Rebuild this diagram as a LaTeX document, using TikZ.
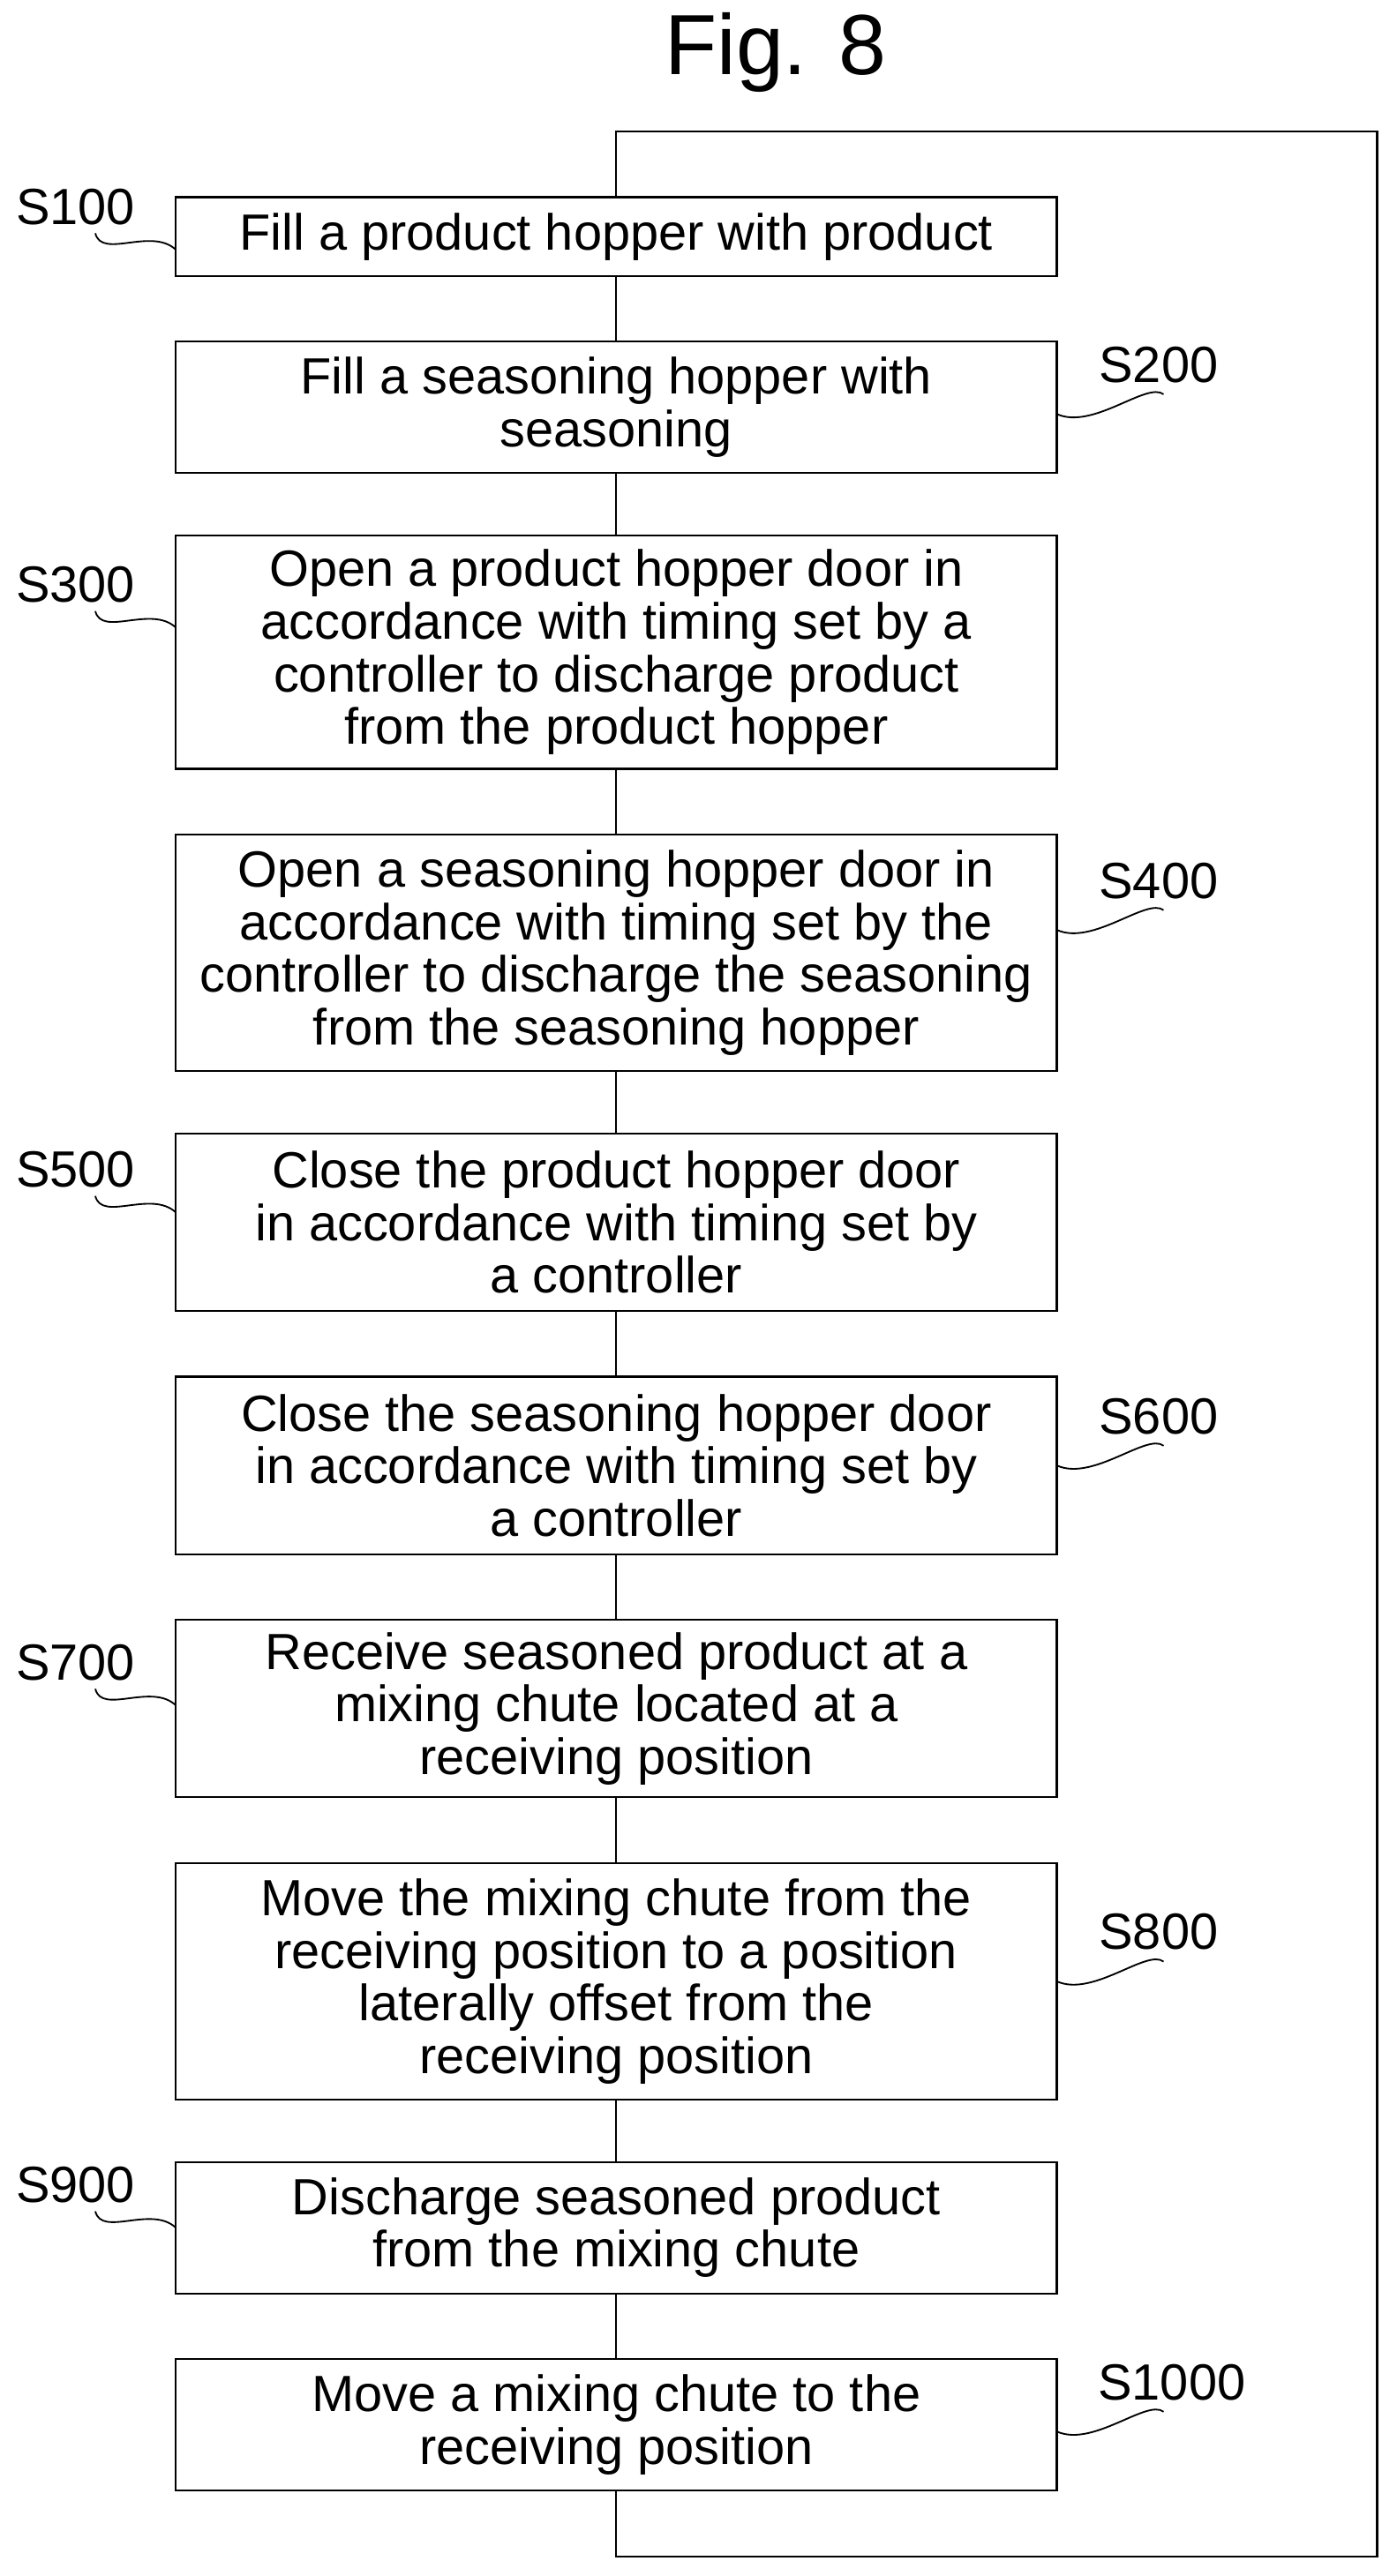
\documentclass[tikz,border=0pt]{standalone}
\usepackage{fontspec}
\setmainfont{Liberation Sans}
\begin{document}
\begin{tikzpicture}[x=1pt,y=-1pt,
 box/.style={draw,line width=1.2pt,minimum width=536pt,align=center,inner sep=0pt,font=\fontsize{31}{32}\selectfont},
 lbl/.style={font=\fontsize{31}{32}\selectfont,inner sep=0pt},
 ln/.style={line width=1.2pt}]
\useasboundingbox (0,0) rectangle (850,1568);
\node[font=\fontsize{52}{56}\selectfont] (title) at (472,32) {Fig. 8};
\def\B#1#2#3#4{\node[box,minimum height=#3-#2] (#1) at (375,{(#2+#3)/2}) {#4};}
\B{s1}{120}{168}{Fill a product hopper with product}
\B{s2}{208}{288}{Fill a seasoning hopper with\\seasoning}
\B{s3}{326}{468}{Open a product hopper door in\\accordance with timing set by a\\controller to discharge product\\from the product hopper}
\B{s4}{508}{652}{Open a seasoning hopper door in\\accordance with timing set by the\\controller to discharge the seasoning\\from the seasoning hopper}
\B{s5}{690}{798}{Close the product hopper door\\in accordance with timing set by\\a controller}
\B{s6}{838}{946}{Close the seasoning hopper door\\in accordance with timing set by\\a controller}
\B{s7}{986}{1094}{Receive seasoned product at a\\mixing chute located at a\\receiving position}
\B{s8}{1134}{1278}{Move the mixing chute from the\\receiving position to a position\\laterally offset from the\\receiving position}
\B{s9}{1316}{1396}{Discharge seasoned product\\from the mixing chute}
\B{s10}{1436}{1516}{Move a mixing chute to the\\receiving position}
\foreach \a/\b in {s1/s2,s2/s3,s3/s4,s4/s5,s5/s6,s6/s7,s7/s8,s8/s9,s9/s10}
  \draw[ln] (\a.south) -- (\b.north);
\coordinate (c1) at (375,1556);
\coordinate (c2) at (838,1556);
\coordinate (c3) at (838,80);
\coordinate (c4) at (375,80);
\draw[ln] (s10.south) -- (c1) -- (c2) -- (c3) -- (c4) -- (s1.north);
% left labels
\foreach \n/\t/\y in {s1/S100/126,s3/S300/356,s5/S500/712,s7/S700/1012,s9/S900/1330}{
  \node[lbl] (L\t) at (46,\y) {\t};
  \coordinate (a\t) at (58,\y+16);
  \coordinate (b\t) at (107,\y+26);
  \draw[line width=1pt] (a\t) .. controls (62,\y+32) and (92,\y+12) .. (b\t);
}
\foreach \n/\t/\y/\xx in {s2/S200/222/705,s4/S400/536/705,s6/S600/862/705,s8/S800/1176/705,s10/S1000/1450/713}{
  \node[lbl] (L\t) at (\xx,\y) {\t};
  \coordinate (a\t) at (643,\y+30);
  \coordinate (b\t) at (708,\y+18);
  \draw[line width=1pt] (a\t) .. controls (665,\y+40) and (698,\y+10) .. (b\t);
}
\end{tikzpicture}
\end{document}
